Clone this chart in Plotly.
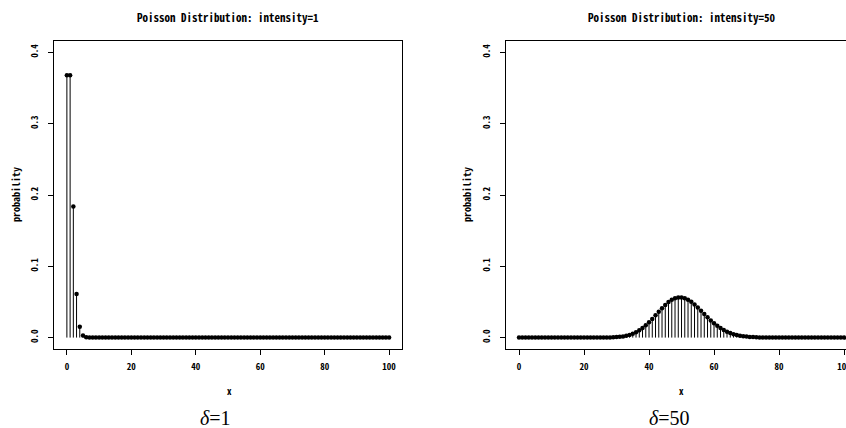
import plotly.graph_objects as go

# Support of the pmf: x = 0, 1, ..., 100
x_vals = list(range(101))

# Poisson pmf, intensity = 1
prob_1 = [
    0.3679, 0.3679, 0.1839, 0.0613, 0.0153, 0.0031, 0.0005, 0.0001, 0.0, 0.0,
    0.0, 0.0, 0.0, 0.0, 0.0, 0.0, 0.0, 0.0, 0.0, 0.0,
    0.0, 0.0, 0.0, 0.0, 0.0, 0.0, 0.0, 0.0, 0.0, 0.0,
    0.0, 0.0, 0.0, 0.0, 0.0, 0.0, 0.0, 0.0, 0.0, 0.0,
    0.0, 0.0, 0.0, 0.0, 0.0, 0.0, 0.0, 0.0, 0.0, 0.0,
    0.0, 0.0, 0.0, 0.0, 0.0, 0.0, 0.0, 0.0, 0.0, 0.0,
    0.0, 0.0, 0.0, 0.0, 0.0, 0.0, 0.0, 0.0, 0.0, 0.0,
    0.0, 0.0, 0.0, 0.0, 0.0, 0.0, 0.0, 0.0, 0.0, 0.0,
    0.0, 0.0, 0.0, 0.0, 0.0, 0.0, 0.0, 0.0, 0.0, 0.0,
    0.0, 0.0, 0.0, 0.0, 0.0, 0.0, 0.0, 0.0, 0.0, 0.0,
    0.0,
]

# Poisson pmf, intensity = 50
prob_50 = [
    0.0, 0.0, 0.0, 0.0, 0.0, 0.0, 0.0, 0.0, 0.0, 0.0,
    0.0, 0.0, 0.0, 0.0, 0.0, 0.0, 0.0, 0.0, 0.0, 0.0,
    0.0, 0.0, 0.0, 0.0, 0.0, 0.0, 0.0001, 0.0002, 0.0003, 0.0004,
    0.0007, 0.0011, 0.0017, 0.0026, 0.0038, 0.0054, 0.0075, 0.0102, 0.0134, 0.0172,
    0.0215, 0.0262, 0.0312, 0.0363, 0.0412, 0.0458, 0.0498, 0.0530, 0.0552, 0.0563,
    0.0563, 0.0552, 0.0531, 0.0501, 0.0464, 0.0422, 0.0377, 0.0330, 0.0285, 0.0241,
    0.0201, 0.0165, 0.0133, 0.0106, 0.0083, 0.0064, 0.0048, 0.0036, 0.0026, 0.0019,
    0.0014, 0.0010, 0.0007, 0.0005, 0.0003, 0.0002, 0.0002, 0.0001, 0.0001, 0.0,
    0.0, 0.0, 0.0, 0.0, 0.0, 0.0, 0.0, 0.0, 0.0, 0.0,
    0.0, 0.0, 0.0, 0.0, 0.0, 0.0, 0.0, 0.0, 0.0, 0.0,
    0.0,
]

titles = ["Poisson Distribution: intensity=1", "Poisson Distribution: intensity=50"]
captions = ["<i>δ</i>=1", "<i>δ</i>=50"]
x_ticks = [0, 20, 40, 60, 80, 100]
y_ticks = [0.0, 0.1, 0.2, 0.3, 0.4]

W, H = 846, 428
MONO = "'Noto Sans Mono CJK JP', 'Noto Sans CJK JP', 'DejaVu Sans Mono', monospace"
SERIF = "Liberation Serif"

fig = go.Figure()


def add_pmf(xs, ps, xa, ya):
    sx, sy = [], []
    for xv, pv in zip(xs, ps):
        sx += [xv, xv, None]
        sy += [0, pv, None]
    fig.add_trace(go.Scatter(x=sx, y=sy, mode="lines", xaxis=xa, yaxis=ya,
                             line=dict(color="black", width=1),
                             hoverinfo="skip", showlegend=False))
    fig.add_trace(go.Scatter(x=xs, y=ps, mode="markers", xaxis=xa, yaxis=ya,
                             marker=dict(color="black", size=4.5),
                             showlegend=False))


add_pmf(x_vals, prob_1, "x", "y")
add_pmf(x_vals, prob_50, "x2", "y2")

# panel geometry in pixels
left_px = [(54, 402), (506, 846)]
top_px, bot_px = 41, 349
y_dom = [1 - bot_px / H, 1 - top_px / H]

tick_font = dict(family=MONO, size=9, color="black", weight="bold")
common_x = dict(tickvals=x_ticks, ticks="outside", ticklen=5, tickcolor="black",
                showline=True, linecolor="black", linewidth=1, mirror=True,
                showgrid=False, zeroline=False, tickfont=tick_font,
                ticklabelstandoff=4, ticklabeloverflow="allow", automargin=False)
common_y = dict(tickvals=y_ticks, tickformat=".1f", ticks="outside", ticklen=5,
                tickcolor="black", showline=True, linecolor="black", linewidth=1,
                showgrid=False, zeroline=False, tickangle=-90, tickfont=tick_font,
                range=[-0.016, 0.416], domain=y_dom, ticklabelstandoff=6,
                automargin=False)

fig.update_layout(
    width=W, height=H,
    margin=dict(l=0, r=0, t=0, b=0),
    paper_bgcolor="white", plot_bgcolor="white",
    xaxis=dict(domain=[left_px[0][0] / W, left_px[0][1] / W], range=[-4, 104],
               anchor="y", **common_x),
    yaxis=dict(anchor="x", mirror=True, **common_y),
    xaxis2=dict(domain=[left_px[1][0] / W, 1.0], range=[-4, 100.6],
                anchor="y2", **common_x),
    yaxis2=dict(anchor="x2", mirror=False, **common_y),
)

annotations = []
title_cx = [228, 681]
caption_cx = [216, 669]
ylab_cx = [15, 466]
for i in range(2):
    annotations.append(dict(text=titles[i], x=title_cx[i] / W, y=1 - 17 / H,
                            xref="paper", yref="paper", showarrow=False,
                            xanchor="center", yanchor="middle",
                            font=dict(family=MONO, size=11, color="black", weight="bold")))
    annotations.append(dict(text="x", x=(left_px[i][0] + 13 + 50 * 3.24) / W, y=1 - 391 / H,
                            xref="paper", yref="paper", showarrow=False,
                            xanchor="center", yanchor="middle",
                            font=dict(family=MONO, size=9, color="black", weight="bold")))
    annotations.append(dict(text="probability", x=ylab_cx[i] / W, y=1 - 195 / H,
                            xref="paper", yref="paper", showarrow=False, textangle=-90,
                            xanchor="center", yanchor="middle",
                            font=dict(family=MONO, size=10, color="black", weight="bold")))
    annotations.append(dict(text=captions[i], x=caption_cx[i] / W, y=1 - 418 / H,
                            xref="paper", yref="paper", showarrow=False,
                            xanchor="center", yanchor="middle",
                            font=dict(family=SERIF, size=20, color="black")))
fig.update_layout(annotations=annotations)

fig.write_html("out.html")
